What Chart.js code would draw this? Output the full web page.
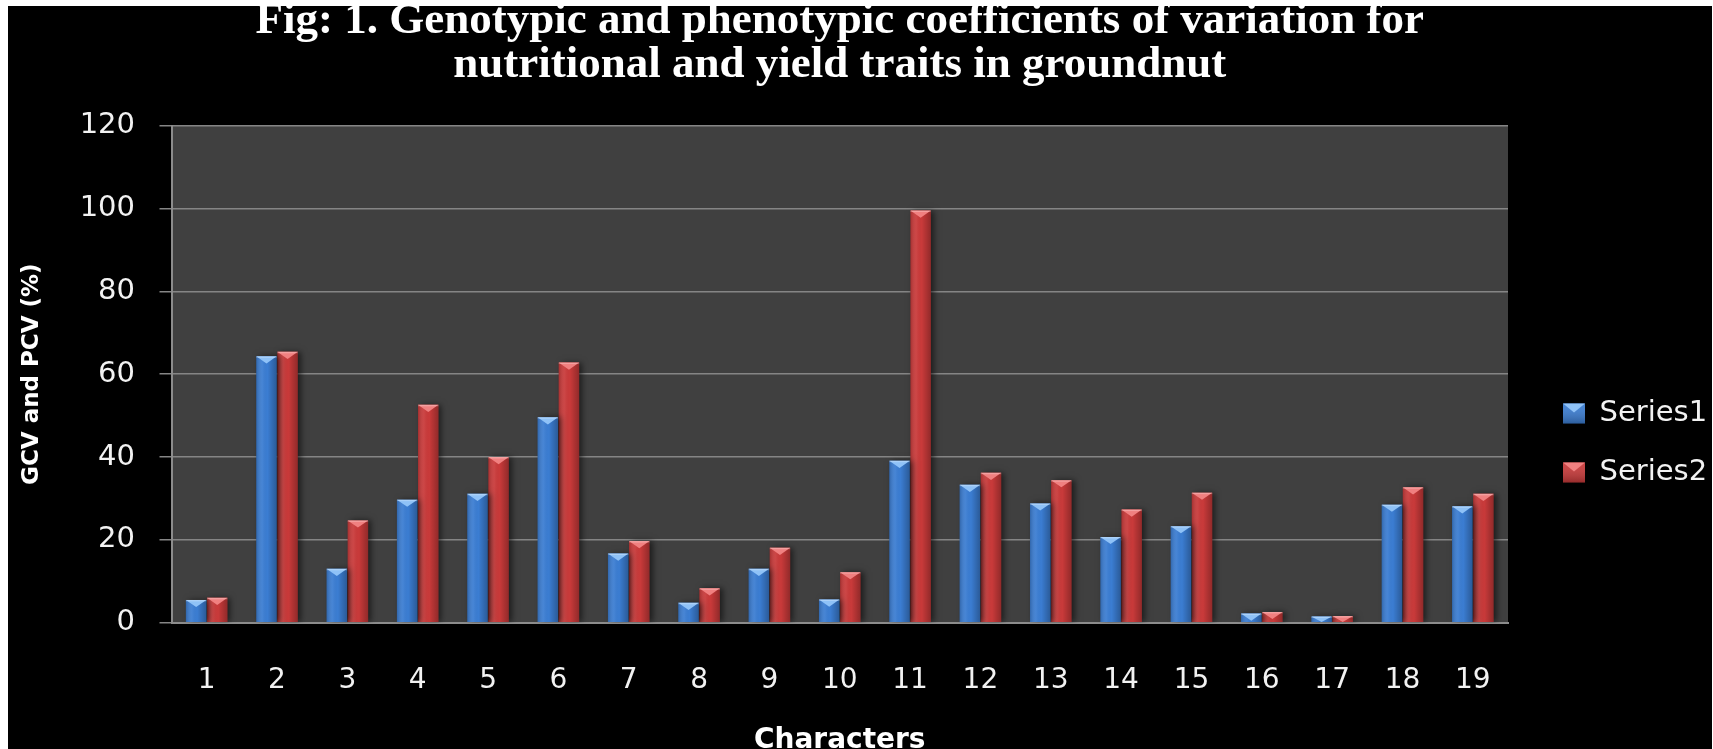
<!DOCTYPE html>
<html>
<head>
<meta charset="utf-8">
<script src="https://cdn.jsdelivr.net/npm/chart.js@4"></script>
<style>
  html, body { margin: 0; padding: 0; background: #ffffff; }
  canvas { display: block; }
</style>
</head>
<body>
<canvas id="c" width="1713" height="749"></canvas>
<script>
const categories = ['1','2','3','4','5','6','7','8','9','10','11','12','13','14','15','16','17','18','19'];
const series1 = [5.5, 64.3, 13.0, 29.7, 31.1, 49.6, 16.7, 4.8, 13.0, 5.6, 39.1, 33.3, 28.8, 20.7, 23.3, 2.2, 1.5, 28.5, 28.1];
const series2 = [6.0, 65.4, 24.7, 52.6, 40.0, 62.8, 19.7, 8.3, 18.1, 12.2, 99.5, 36.2, 34.4, 27.3, 31.4, 2.6, 1.6, 32.7, 31.1];
const seriesNames = ['Series1', 'Series2'];
const titleLines = ['Fig: 1. Genotypic and phenotypic coefficients of variation for', 'nutritional and yield traits in groundnut'];
const yTitle = 'GCV and PCV (%)';
const xTitle = 'Characters';

const baseColors = ['#3b7dd2', '#c93a3a'];
const capColors = ['#8fc2f7', '#f08080'];

const LEG_PAD = 30, LEG_FONT = 29, LEG_BOXW = 22, LEG_BOXH = 20;

const backgroundPlugin = {
  id: 'bg',
  beforeDraw(chart) {
    const ctx = chart.ctx;
    ctx.save();
    ctx.fillStyle = '#ffffff';
    ctx.fillRect(0, 0, chart.width, chart.height);
    ctx.fillStyle = '#000000';
    ctx.fillRect(8, 6, chart.width - 9, chart.height - 6);
    const a = chart.chartArea;
    ctx.fillStyle = '#404040';
    ctx.fillRect(a.left, a.top, a.right - a.left, a.bottom - a.top);
    ctx.restore();
  }
};

const legendShift = {
  id: 'legendShift',
  afterLayout(chart) {
    const lg = chart.legend;
    if (!lg) return;
    const w = lg.right - lg.left;
    lg.left = 1533; lg.right = lg.left + w;
    lg.top = 137; lg.bottom = 749;
  }
};

const barStyle = {
  id: 'barStyle',
  beforeDatasetsDraw(chart) {
    const ctx = chart.ctx;
    ctx.save();
    ctx.shadowColor = 'rgba(0,0,0,0.55)';
    ctx.shadowBlur = 6;
    ctx.shadowOffsetX = 3;
    ctx.shadowOffsetY = 0;
  },
  afterDatasetsDraw(chart) {
    const ctx = chart.ctx;
    ctx.restore();
    ctx.save();
    chart.data.datasets.forEach((ds, di) => {
      const meta = chart.getDatasetMeta(di);
      meta.data.forEach((bar) => {
        const w = bar.width;
        const l = bar.x - w / 2;
        const top = Math.min(bar.y, bar.base);
        const h = Math.abs(bar.base - bar.y);
        const g = ctx.createLinearGradient(l, 0, l + w, 0);
        g.addColorStop(0, 'rgba(0,0,0,0.18)');
        g.addColorStop(0.3, 'rgba(255,255,255,0.06)');
        g.addColorStop(0.55, 'rgba(0,0,0,0.0)');
        g.addColorStop(1, 'rgba(0,0,0,0.28)');
        ctx.fillStyle = g;
        ctx.fillRect(l, top, w, h);
        const capH = Math.min(w * 0.35, h);
        ctx.beginPath();
        ctx.moveTo(l, top);
        ctx.lineTo(l + w, top);
        ctx.lineTo(bar.x, top + capH);
        ctx.closePath();
        ctx.fillStyle = capColors[di];
        ctx.fill();
        ctx.fillStyle = 'rgba(255,255,255,0.25)';
        ctx.fillRect(l, top, w, 1.5);
      });
    });
    const lg = chart.legend;
    if (lg) {
      const itemH = LEG_FONT;
      const colH = 2 * (itemH + LEG_PAD);
      let y = (lg.top + LEG_PAD + lg.bottom - colH) / 2;
      for (let i = 0; i < 2; i++) {
        const bx = lg.left + LEG_PAD;
        const by = y + Math.max((LEG_FONT - LEG_BOXH) / 2, 0);
        const g = ctx.createLinearGradient(0, by, 0, by + LEG_BOXH);
        g.addColorStop(0, 'rgba(255,255,255,0.05)');
        g.addColorStop(1, 'rgba(0,0,0,0.25)');
        ctx.fillStyle = g;
        ctx.fillRect(bx, by, LEG_BOXW, LEG_BOXH);
        ctx.beginPath();
        ctx.moveTo(bx, by);
        ctx.lineTo(bx + LEG_BOXW, by);
        ctx.lineTo(bx + LEG_BOXW / 2, by + LEG_BOXH * 0.45);
        ctx.closePath();
        ctx.fillStyle = capColors[i];
        ctx.fill();
        y += itemH + LEG_PAD;
      }
    }
    ctx.restore();
  }
};

new Chart(document.getElementById('c'), {
  type: 'bar',
  data: {
    labels: categories,
    datasets: [
      { label: seriesNames[0], data: series1, backgroundColor: baseColors[0], borderWidth: 0 },
      { label: seriesNames[1], data: series2, backgroundColor: baseColors[1], borderWidth: 0 }
    ]
  },
  options: {
    responsive: false,
    animation: false,
    devicePixelRatio: 1,
    layout: { padding: { left: 0, top: 0, bottom: 0, right: 25 } },
    datasets: { bar: { categoryPercentage: 0.6, barPercentage: 0.97 } },
    plugins: {
      tooltip: { enabled: false },
      title: {
        display: true,
        text: titleLines,
        color: '#ffffff',
        fullSize: false,
        font: { family: 'Liberation Serif', weight: 'bold', size: 45, lineHeight: 0.97 },
        padding: { top: 0, bottom: 38.3 }
      },
      legend: {
        display: true,
        position: 'right',
        maxWidth: 180,
        labels: {
          color: '#f2f2f2',
          font: { family: 'DejaVu Sans', size: LEG_FONT },
          boxWidth: LEG_BOXW,
          boxHeight: LEG_BOXH,
          padding: LEG_PAD
        }
      }
    },
    scales: {
      x: {
        grid: { display: false, drawTicks: false },
        border: { display: true, color: '#8c8c8c', width: 2 },
        ticks: {
          color: '#f2f2f2',
          font: { family: 'DejaVu Sans', size: 28 },
          padding: 41,
          maxRotation: 0,
          autoSkip: false
        },
        title: {
          display: true,
          text: xTitle,
          color: '#ffffff',
          font: { family: 'DejaVu Sans', weight: 'bold', size: 28, lineHeight: 0.6 },
          padding: 0
        },
        afterFit(scale) { scale.height = 749 - 622.7; }
      },
      y: {
        min: 0,
        max: 120,
        ticks: {
          stepSize: 20,
          color: '#f2f2f2',
          font: { family: 'DejaVu Sans', size: 29 },
          padding: 24.5
        },
        grid: { color: '#858585', lineWidth: 1.5, drawTicks: true, tickLength: 12 },
        border: { display: true, color: '#8c8c8c', width: 2 },
        title: {
          display: true,
          text: yTitle,
          color: '#ffffff',
          font: { family: 'DejaVu Sans', weight: 'bold', size: 23, lineHeight: 1.2 },
          padding: { top: 18, bottom: 0 }
        },
        afterFit(scale) { scale.width = 171.5; }
      }
    }
  },
  plugins: [backgroundPlugin, legendShift, barStyle]
});
</script>
</body>
</html>
